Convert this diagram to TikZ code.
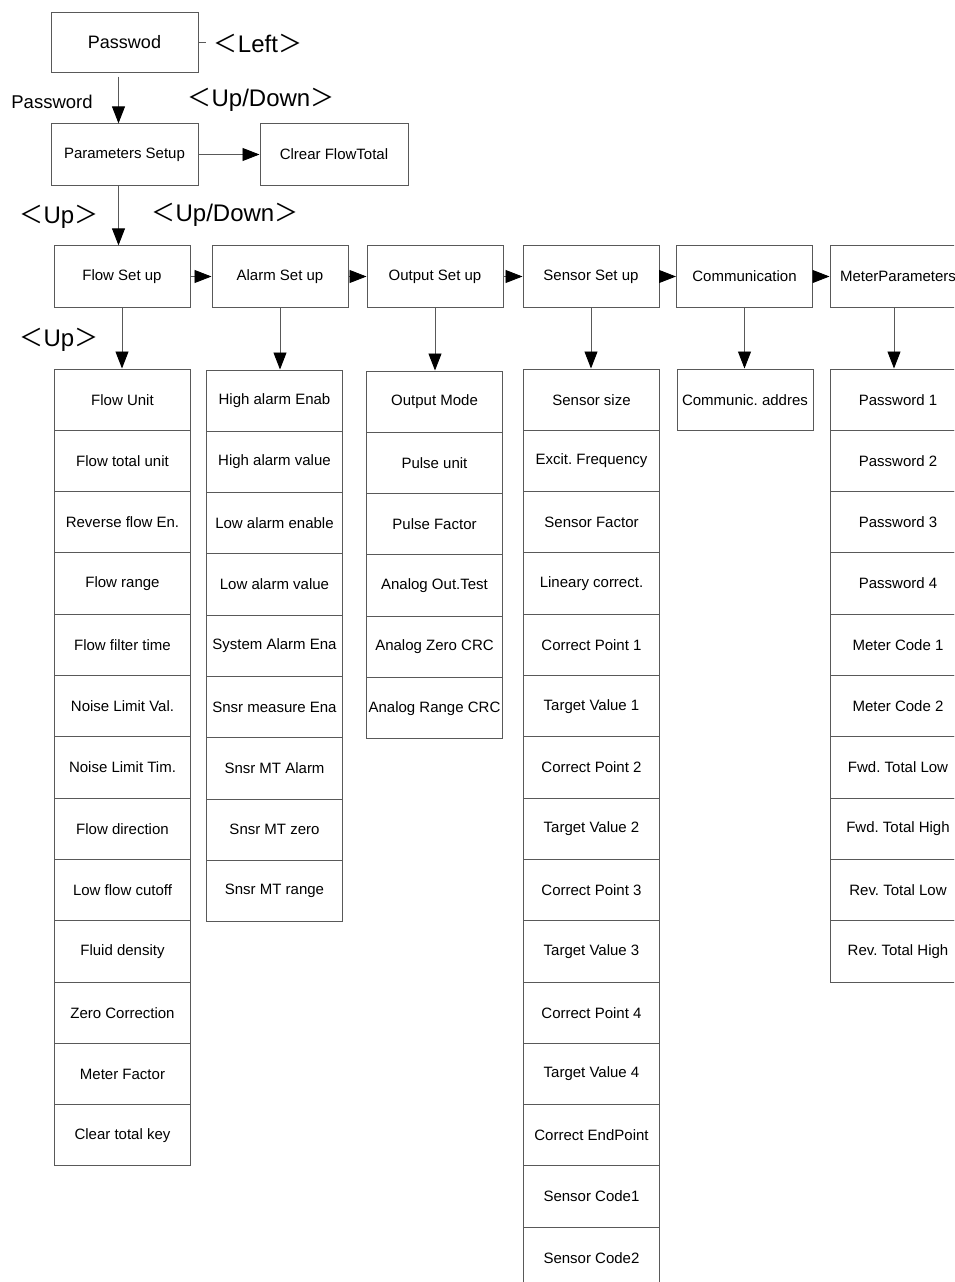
\documentclass[tikz,border=0pt]{standalone}
\usepackage{fontspec}
\setmainfont{Liberation Sans}
\newfontfamily\cjk{Noto Sans CJK SC}
\usetikzlibrary{arrows.meta}

\newcommand{\keyname}[1]{{\cjk ＜}#1{\cjk ＞}}

\begin{document}
\frenchspacing
\begin{tikzpicture}[x=1pt, y=-1pt,
  box/.style = {draw=black!65, line width=1pt, fill=white, minimum width=136pt,
                minimum height=61.3pt, inner sep=0pt, font=\fontsize{15}{17}\selectfont},
  arr/.style = {draw=black!65, line width=0.9pt, -{Triangle[length=17pt,width=13pt,color=black]}},
  keylbl/.style = {inner sep=0pt, font=\fontsize{24}{28}\selectfont}]
\useasboundingbox (0,0) rectangle (954,1282);
\clip (0,0) rectangle (954,1282);

% top part
\node [box, minimum width=147pt, minimum height=60pt, font=\fontsize{18}{20}\selectfont] (pw) at (124.5,42) {Passwod};
\node [box, minimum width=147pt] (ps) at (124.5,154.5) {Parameters Setup};
\node [box, minimum width=148pt] (cft) at (334,154.5) {Clrear FlowTotal};
\draw [draw=black!65, line width=0.9pt] (pw.east) -- ++(7,0);
\node [keylbl] (kleft) at (258,43) {\keyname{Left}};
\node [inner sep=0pt, font=\fontsize{18.5}{20}\selectfont] (pwlbl) at (52,102) {Password};
\node [keylbl] (kud1) at (261,100) {\keyname{Up/Down}};
\node [keylbl] (kup1) at (59,217) {\keyname{Up}};
\node [keylbl] (kud2) at (225,215) {\keyname{Up/Down}};
\node [keylbl] (kup2) at (59,340) {\keyname{Up}};
\draw [arr] ([xshift=-6pt,yshift=-4pt]pw.south) -- ([xshift=-6pt]ps.north);
\draw [arr] (ps) -- (cft);

% menu row
\node [box] (fs) at (122,276.5) {Flow Set up};
\node [box] (as) at (280,276.5) {Alarm Set up};
\node [box] (os) at (435,276.5) {Output Set up};
\node [box] (ss) at (591,276.5) {Sensor Set up};
\node [box] (cm) at (744.5,276.5) {Communication};
\node [box] (mp) at (898,276.5) {MeterParameters};
\draw [arr] ([xshift=-6pt]ps.south) -- ([xshift=-6pt]ps.south |- fs.north);
\draw [arr] (fs) -- (as);
\draw [arr] (as) -- (os);
\draw [arr] (os) -- (ss);
\draw [arr] (ss) -- (cm);
\draw [arr] (cm) -- (mp);

% columns
\foreach \t [count=\i] in {Flow Unit, Flow total unit, Reverse flow En., Flow range,
    Flow filter time, Noise Limit Val., Noise Limit Tim., Flow direction, Low flow cutoff,
    Fluid density, Zero Correction, Meter Factor, Clear total key}
  \node [box] (fl\i) at (122.5,{399.65+61.3*(\i-1)}) {\t};
\foreach \t [count=\i] in {High alarm Enab, High alarm value, Low alarm enable,
    Low alarm value, System Alarm Ena, Snsr measure Ena, Snsr MT Alarm, Snsr MT zero,
    Snsr MT range}
  \node [box] (al\i) at (274.5,{400.65+61.3*(\i-1)}) {\t};
\foreach \t [count=\i] in {Output Mode, Pulse unit, Pulse Factor, Analog Out.Test,
    Analog Zero CRC, Analog Range CRC}
  \node [box] (ou\i) at (434.5,{401.65+61.3*(\i-1)}) {\t};
\foreach \t [count=\i] in {Sensor size, Excit. Frequency, Sensor Factor, Lineary correct.,
    Correct Point 1, Target Value 1, Correct Point 2, Target Value 2, Correct Point 3,
    Target Value 3, Correct Point 4, Target Value 4, Correct EndPoint, Sensor Code1,
    Sensor Code2}
  \node [box] (se\i) at (591.5,{399.65+61.3*(\i-1)}) {\t};
\node [box] (co1) at (745,399.65) {Communic. addres};
\foreach \t [count=\i] in {Password 1, Password 2, Password 3, Password 4, Meter Code 1,
    Meter Code 2, Fwd. Total Low, Fwd. Total High, Rev. Total Low, Rev. Total High}
  \node [box] (me\i) at (898,{399.65+61.3*(\i-1)}) {\t};

\draw [arr] (fs.south) -- (fs.south |- fl1.north);
\draw [arr] (as.south) -- (as.south |- al1.north);
\draw [arr] (os.south) -- (os.south |- ou1.north);
\draw [arr] (ss.south) -- (ss.south |- se1.north);
\draw [arr] (cm.south) -- (cm.south |- co1.north);
\draw [arr] ([xshift=-4pt]mp.south) -- ([xshift=-4pt]mp.south |- me1.north);
\end{tikzpicture}
\end{document}
